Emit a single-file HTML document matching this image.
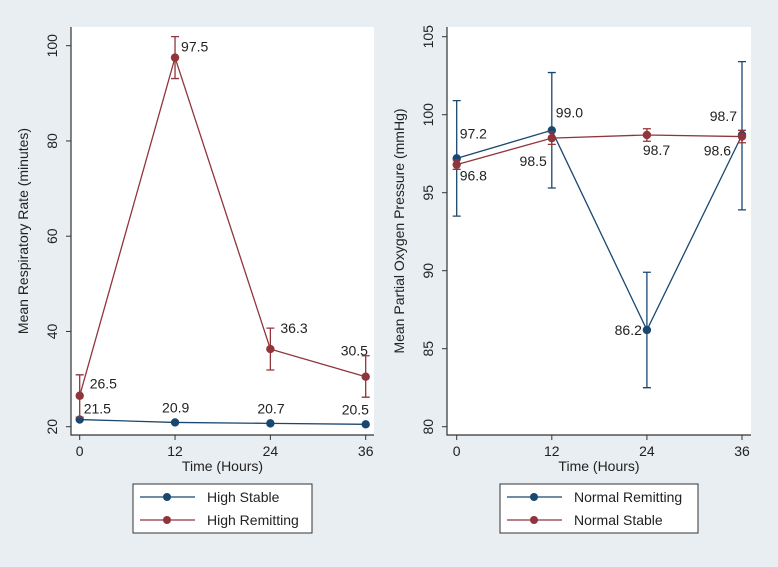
<!DOCTYPE html>
<html><head><meta charset="utf-8"><style>
body{margin:0;background:#e8eef1;}
svg{display:block;font-family:"Liberation Sans",sans-serif;}
</style></head><body>
<svg id="c" width="778" height="567" viewBox="0 0 778 567">
<rect x="0" y="0" width="778" height="567" fill="#e8eef1"/>
</svg>
<script>
const xCats=[0,12,24,36];
// Left panel
const leftBlue=[21.5,20.9,20.7,20.5];
const leftRed=[26.5,97.5,36.3,30.5];
const leftRedLo=[22.0,93.1,31.9,26.2];
const leftRedHi=[30.9,101.9,40.7,34.9];
const leftTicks=[20,40,60,80,100];
const leftBlueLabels=["21.5","20.9","20.7","20.5"];
const leftRedLabels=["26.5","97.5","36.3","30.5"];
// Right panel
const rightBlue=[97.2,99.0,86.2,98.7];
const rightBlueLo=[93.5,95.3,82.5,93.9];
const rightBlueHi=[100.9,102.7,89.9,103.4];
const rightRed=[96.8,98.5,98.7,98.6];
const rightRedLo=[96.5,98.1,98.3,98.2];
const rightRedHi=[97.1,98.9,99.1,99.0];
const rightTicks=[80,85,90,95,100,105];
const rightBlueLabels=["97.2","99.0","86.2","98.7"];
const rightRedLabels=["96.8","98.5","98.7","98.6"];

const BLUE="#1a476f",RED="#90353b";
const FS=14;
const svg=document.getElementById('c');
const NS="http://www.w3.org/2000/svg";
function mk(tag,attrs,parent){const e=document.createElementNS(NS,tag);for(const k in attrs)e.setAttribute(k,attrs[k]);(parent||svg).appendChild(e);return e;}

function panel(cfg){
  const g=mk('g',{});
  
  
  const sx=v=>cfg.x0+(v-0)/36*(cfg.x36-cfg.x0);
  const sy=v=>cfg.yA+(v-cfg.vA)/(cfg.vB-cfg.vA)*(cfg.yB-cfg.yA);
  const pa=mk('rect',{x:cfg.px,y:27,width:cfg.pw,height:408,fill:'#fff'},g);
  
  
  const ax=mk('path',{d:`M${cfg.px} 27V435H${cfg.px+cfg.pw}`,stroke:'#333',fill:'none','stroke-width':1.2},g);
  
  
  cfg.ticks.forEach(t=>{
    const y=sy(t);
    mk('line',{x1:cfg.px-5,x2:cfg.px,y1:y,y2:y,stroke:'#333'},g);
    const tx=mk('text',{x:cfg.px-14,y:y,'font-size':FS,fill:'#222','text-anchor':'middle',transform:`rotate(-90 ${cfg.px-14} ${y})`},g);
    tx.textContent=t;
    
    
  });
  xCats.forEach(c=>{
    const x=sx(c);
    mk('line',{x1:x,x2:x,y1:435,y2:440,stroke:'#333'},g);
    const tx=mk('text',{x:x,y:456,'font-size':FS,fill:'#222','text-anchor':'middle'},g);
    tx.textContent=c;
    
    
  });
  const xt=mk('text',{x:cfg.px+cfg.pw/2,y:471,'font-size':FS,fill:'#222','text-anchor':'middle'},g);
  xt.textContent='Time (Hours)';
  
  
  const yx=cfg.px-43,yy=231;
  const yt=mk('text',{x:yx,y:yy,'font-size':FS,fill:'#222','text-anchor':'middle',transform:`rotate(-90 ${yx} ${yy})`},g);
  yt.textContent=cfg.ytitle;
  
  
  cfg.series.forEach(s=>{
    if(s.lo){s.lo.forEach((lo,i)=>{
      const x=sx(xCats[i]),y1=sy(lo),y2=sy(s.hi[i]);
      const eb=mk('path',{d:`M${x} ${y1}V${y2}M${x-4} ${y1}H${x+4}M${x-4} ${y2}H${x+4}`,stroke:s.color,'stroke-width':1.3,fill:'none'},g);
      
      
    });}
    const pts=s.vals.map((v,i)=>`${sx(xCats[i])},${sy(v)}`).join(' ');
    const pl=mk('polyline',{points:pts,stroke:s.color,'stroke-width':1.3,fill:'none'},g);
    
    
    s.vals.forEach((v,i)=>{
      const c=mk('circle',{cx:sx(xCats[i]),cy:sy(v),r:4.2,fill:s.color},g);
      
      
      const o=s.off[i];
      const t=mk('text',{x:sx(xCats[i])+o[0],y:sy(v)+o[1],'font-size':FS,fill:'#222','text-anchor':o[2]||'start'},g);
      t.textContent=s.labels[i];
      
      
    });
  });
  const lg=mk('g',{},g);
  
  
  mk('rect',{x:cfg.lx,y:484,width:cfg.lw,height:49,fill:'#fff',stroke:'#333','stroke-width':1},lg);
  cfg.series.forEach((s,i)=>{
    const y=497+i*23;
    const e=mk('g',{},lg);
    
    
    mk('line',{x1:cfg.lx+7,x2:cfg.lx+62,y1:y,y2:y,stroke:s.color,'stroke-width':1.3},e);
    mk('circle',{cx:cfg.lx+34,cy:y,r:4,fill:s.color},e);
    const t=mk('text',{x:cfg.lx+74,y:y+5,'font-size':FS,fill:'#222'},e);
    t.textContent=s.legend;
  });
}

panel({name:'respiratory-rate-panel',px:71,pw:303,x0:79.7,x36:365.7,yA:426.7,vA:20,yB:45.7,vB:100,
  ticks:leftTicks,ytitle:'Mean Respiratory Rate (minutes)',lx:133,lw:179,
  series:[
    {name:'high-stable',color:BLUE,vals:leftBlue,labels:leftBlueLabels,legend:'High Stable',
     off:[[4,-6],[-13,-10],[-13,-10],[-24,-10]]},
    {name:'high-remitting',color:RED,vals:leftRed,labels:leftRedLabels,legend:'High Remitting',lo:leftRedLo,hi:leftRedHi,
     off:[[10,-7],[6,-6],[10,-16],[-25,-21]]}
  ]});
panel({name:'oxygen-pressure-panel',px:447,pw:304,x0:456.7,x36:742,yA:426.7,vA:80,yB:36.7,vB:105,
  ticks:rightTicks,ytitle:'Mean Partial Oxygen Pressure (mmHg)',lx:500,lw:198,
  series:[
    {name:'normal-remitting',color:BLUE,vals:rightBlue,labels:rightBlueLabels,legend:'Normal Remitting',lo:rightBlueLo,hi:rightBlueHi,
     off:[[3,-20],[4,-13],[-5,5,'end'],[-5,-14,'end']]},
    {name:'normal-stable',color:RED,vals:rightRed,labels:rightRedLabels,legend:'Normal Stable',lo:rightRedLo,hi:rightRedHi,
     off:[[3,16],[-5,28,'end'],[-4,20],[-11,19,'end']]}
  ]});
</script>
</body></html>
